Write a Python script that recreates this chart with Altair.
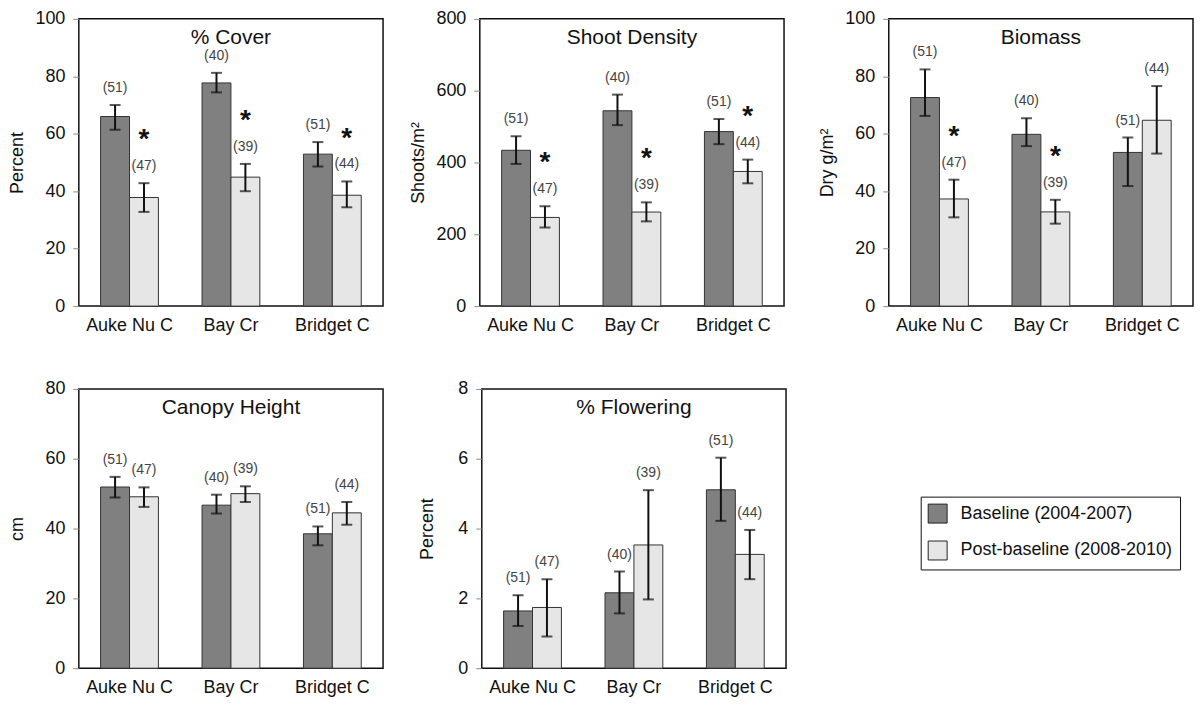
import altair as alt
import pandas as pd

sites = ["Auke Nu C", "Bay Cr", "Bridget C"]
periods = ["Baseline (2004-2007)", "Post-baseline (2008-2010)"]
period_colors = ["#808080", "#e6e6e6"]
n_base = [51, 40, 51]
n_post = [47, 39, 44]

# % Cover
cover_base = [66.0, 77.7, 52.9]
cover_base_lo = [61.4, 74.4, 48.6]
cover_base_hi = [70.0, 81.2, 57.1]
cover_post = [37.8, 44.9, 38.6]
cover_post_lo = [32.8, 40.0, 34.4]
cover_post_hi = [42.8, 49.5, 43.4]
cover_sig = [True, True, True]

# Shoot density
shoot_base = [434, 544, 486]
shoot_base_lo = [396, 504, 451]
shoot_base_hi = [473, 589, 521]
shoot_post = [247, 262, 375]
shoot_post_lo = [219, 236, 342]
shoot_post_hi = [278, 289, 408]
shoot_sig = [True, True, True]

# Biomass
bio_base = [72.6, 59.8, 53.5]
bio_base_lo = [66.2, 55.7, 41.8]
bio_base_hi = [82.4, 65.4, 58.7]
bio_post = [37.3, 32.8, 64.7]
bio_post_lo = [30.9, 28.7, 53.1]
bio_post_hi = [44.0, 37.0, 76.6]
bio_sig = [True, True, False]

# Canopy height
can_base = [51.9, 46.7, 38.5]
can_base_lo = [48.9, 44.3, 35.2]
can_base_hi = [54.8, 49.7, 40.6]
can_post = [49.1, 50.0, 44.5]
can_post_lo = [46.2, 47.6, 41.1]
can_post_hi = [51.8, 52.1, 47.6]
can_sig = [False, False, False]

# % Flowering
flo_base = [1.64, 2.16, 5.11]
flo_base_lo = [1.21, 1.57, 4.22]
flo_base_hi = [2.09, 2.77, 6.03]
flo_post = [1.74, 3.53, 3.26]
flo_post_lo = [0.91, 1.97, 2.55]
flo_post_hi = [2.55, 5.10, 3.96]
flo_sig = [False, False, False]

FONT = "Liberation Sans"
W = 305


def make_df(bm, blo, bhi, pm, plo, phi, sig):
    rows = []
    for i, s in enumerate(sites):
        rows.append(dict(site=s, period=periods[0], mean=bm[i], lo=blo[i], hi=bhi[i],
                         nlab=f"({n_base[i]})", sig=False))
        rows.append(dict(site=s, period=periods[1], mean=pm[i], lo=plo[i], hi=phi[i],
                         nlab=f"({n_post[i]})", sig=bool(sig[i])))
    return pd.DataFrame(rows)


def panel(df, name, ytitle, ymax, ystep, h, tpad=8, legend=False):
    base = alt.Chart(df)
    x = alt.X("site:N", sort=sites, title=None,
              scale=alt.Scale(paddingInner=0.43, paddingOuter=0.215),
              axis=alt.Axis(labelAngle=0, ticks=False, tickSize=0, domain=False,
                            labelPadding=10, labelFontSize=18, labelColor="#111"))
    xo = alt.XOffset("period:N", sort=periods,
                     scale=alt.Scale(paddingInner=0, paddingOuter=0))
    yscale = alt.Scale(domain=[0, ymax], nice=False)
    yaxis = alt.Axis(values=list(range(0, ymax + 1, ystep)), grid=False, domain=False,
                     tickSize=6, tickColor="#888", labelPadding=8, labelFontSize=18,
                     labelColor="#111", titleFontSize=18, titleFontWeight="normal",
                     titleColor="#111", titlePadding=tpad, minExtent=44, maxExtent=44)

    def Y(field):
        return alt.Y(field, title=ytitle, scale=yscale, axis=yaxis)

    leg = alt.Legend(title=None, orient="none", legendX=844, legendY=479,
                     symbolType="square", symbolSize=361, symbolStrokeColor="#222",
                     symbolStrokeWidth=1, labelFontSize=18, labelLimit=400,
                     rowPadding=13, padding=7, strokeColor="#111", fillColor="white",
                     labelOffset=13, labelColor="#111")
    bars = base.mark_bar(stroke="#333", strokeWidth=1).encode(
        x=x, xOffset=xo, y=Y("mean:Q"),
        color=alt.Color("period:N", sort=periods,
                        scale=alt.Scale(domain=periods, range=period_colors),
                        legend=leg if legend else None))
    rules = base.mark_rule(strokeWidth=2, color="#111").encode(
        x=x, xOffset=xo, y=Y("lo:Q"), y2="hi:Q")
    tlo = base.mark_tick(thickness=2, size=11, color="#111").encode(
        x=x, xOffset=xo, y=Y("lo:Q"))
    thi = base.mark_tick(thickness=2, size=11, color="#111").encode(
        x=x, xOffset=xo, y=Y("hi:Q"))
    nl = base.mark_text(fontSize=14, color="#444", dy=-17, baseline="middle").encode(
        x=x, xOffset=xo, y=Y("hi:Q"), text="nlab:N")
    stars = base.transform_filter(alt.datum.sig).mark_text(
        text="*", fontSize=28, fontWeight="bold", color="#111", dy=-43,
        baseline="middle").encode(x=x, xOffset=xo, y=Y("hi:Q"))
    ttl = alt.Chart(alt.Data(values=[{"t": name}])).mark_text(
        fontSize=21, baseline="alphabetic", align="center", color="#111").encode(
        text="t:N", x=alt.value(W / 2), y=alt.value(25))
    return alt.layer(bars, rules, tlo, thi, nl, stars, ttl).properties(width=W, height=h)


p1 = panel(make_df(cover_base, cover_base_lo, cover_base_hi, cover_post, cover_post_lo,
                   cover_post_hi, cover_sig), "% Cover", "Percent", 100, 20, 288, legend=True)
p2 = panel(make_df(shoot_base, shoot_base_lo, shoot_base_hi, shoot_post, shoot_post_lo,
                   shoot_post_hi, shoot_sig), "Shoot Density", "Shoots/m²", 800, 200, 288)
p3 = panel(make_df(bio_base, bio_base_lo, bio_base_hi, bio_post, bio_post_lo,
                   bio_post_hi, bio_sig), "Biomass", "Dry g/m²", 100, 20, 288)
p4 = panel(make_df(can_base, can_base_lo, can_base_hi, can_post, can_post_lo,
                   can_post_hi, can_sig), "Canopy Height", "cm", 80, 20, 280)
p5 = panel(make_df(flo_base, flo_base_lo, flo_base_hi, flo_post, flo_post_lo,
                   flo_post_hi, flo_sig), "% Flowering", "Percent", 8, 2, 280, tpad=1)

row1 = alt.hconcat(alt.hconcat(p1, p2, spacing=25), p3, spacing=33)
row2 = alt.hconcat(p4, p5, spacing=34)

chart = alt.vconcat(row1, row2, spacing=44).resolve_scale(color="shared").properties(
    padding=0, background="white"
).configure(font=FONT).configure_view(stroke="#111", strokeWidth=1.5)

chart.save("out.html", embed_options={"renderer": "svg", "actions": False})
